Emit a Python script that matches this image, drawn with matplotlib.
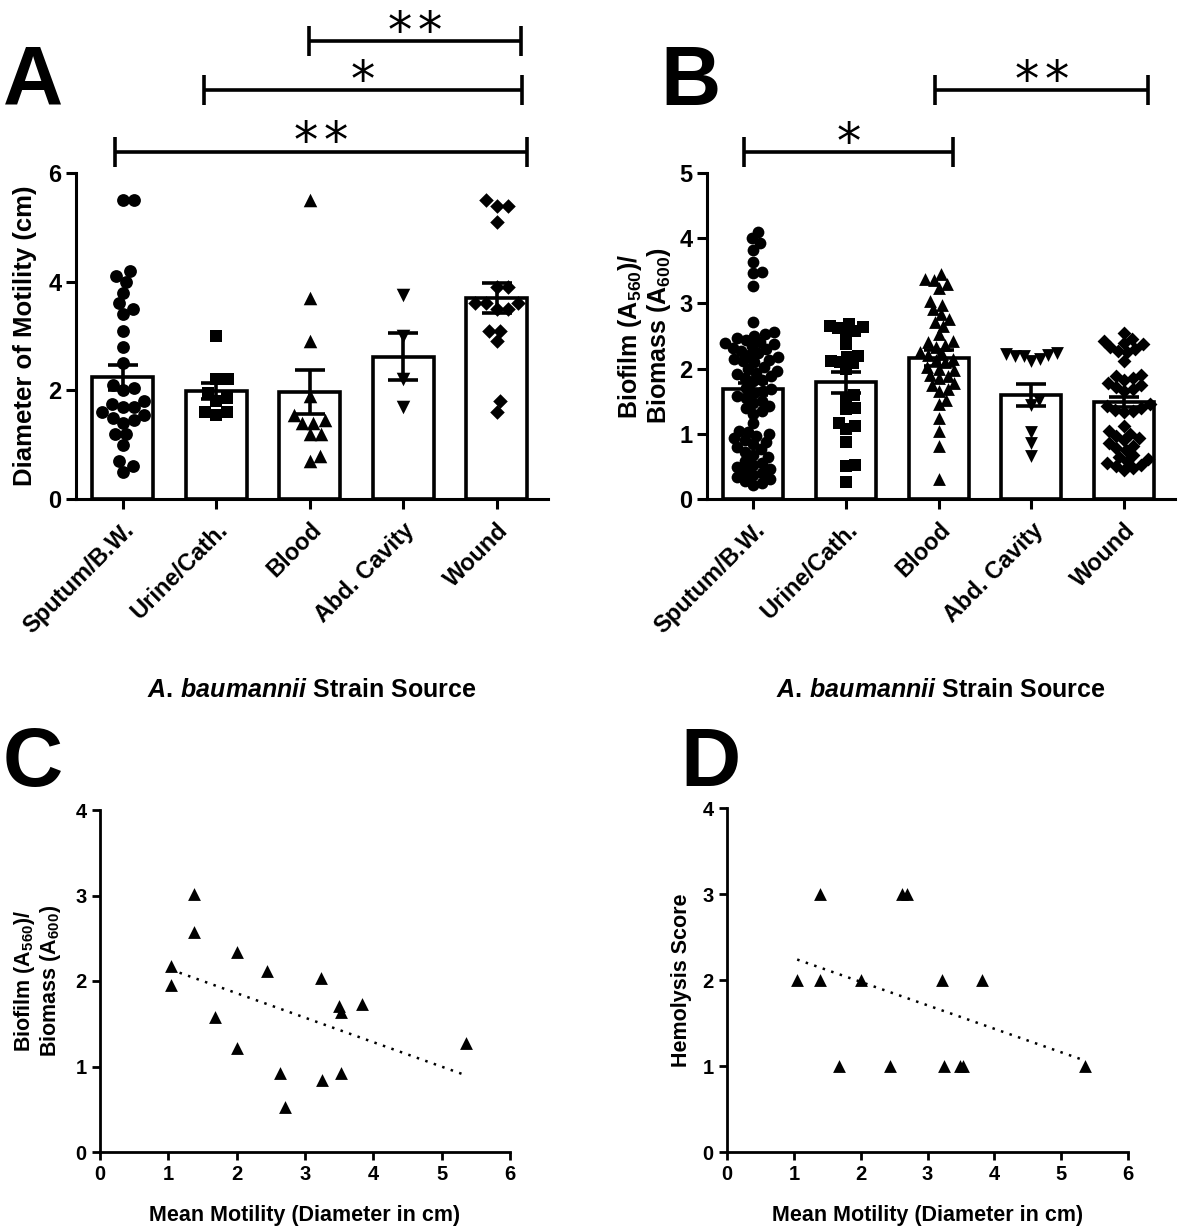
import numpy as np
import matplotlib
matplotlib.use("Agg")
import matplotlib.pyplot as plt

plt.rcParams.update({
    "font.family": ["Liberation Sans", "DejaVu Sans"],
    "font.weight": "bold",
    "axes.labelweight": "bold",
    "mathtext.fontset": "custom",
    "mathtext.rm": "Liberation Sans:bold",
    "mathtext.bf": "Liberation Sans:bold",
    "mathtext.it": "Liberation Sans:italic:bold",
    "axes.linewidth": 2.2,
})

# ---------------- data ----------------
categories = ["Sputum/B.W.", "Urine/Cath.", "Blood", "Abd. Cavity", "Wound"]

# Panel A: motility diameter (cm)
mot_sputum = [5.5, 5.5, 4.2, 4.1, 4.0, 3.8, 3.6, 3.5, 3.4, 3.1, 2.8, 2.5, 2.1, 2.05,
              2.0, 1.8, 1.75, 1.7, 1.7, 1.6, 1.55, 1.5, 1.45, 1.4, 1.2, 1.2, 1.0, 0.7,
              0.6, 0.5]
mot_urine = [3.0, 2.2, 2.2, 1.95, 1.85, 1.8, 1.6, 1.55, 1.6]
mot_blood = [5.5, 3.7, 2.9, 1.9, 1.55, 1.4, 1.4, 1.45, 1.2, 1.2, 0.8, 0.7]
mot_abd = [3.75, 3.0, 2.2, 1.7]
mot_wound = [5.5, 5.4, 5.4, 5.1, 3.9, 3.9, 3.6, 3.6, 3.6, 3.5, 3.5, 3.1, 3.1, 2.9, 1.8, 1.6]
mot_mean = [2.24, 1.99, 1.97, 2.62, 3.70]
mot_sem = [0.23, 0.15, 0.41, 0.43, 0.28]

# Panel B: biofilm / biomass
bio_sputum = [4.1, 4.0, 3.92, 3.82, 3.64, 3.48, 3.47, 3.27, 2.72,
              2.56, 2.53, 2.50, 2.47, 2.44, 2.41, 2.39, 2.37, 2.35,
              2.32, 2.30, 2.27, 2.24, 2.21, 2.18, 2.15, 2.13, 2.11, 2.10,
              2.02, 2.0, 1.97, 1.94, 1.91, 1.88, 1.85, 1.83, 1.81,
              1.70, 1.68, 1.65, 1.62, 1.58, 1.55, 1.51, 1.47, 1.43, 1.39, 1.35, 1.31,
              1.17,
              1.05, 1.03, 1.0, 0.97, 0.93, 0.90, 0.87, 0.84, 0.80, 0.76, 0.72, 0.68, 0.65,
              0.58, 0.55, 0.52, 0.49, 0.46, 0.43, 0.40, 0.37, 0.34, 0.31, 0.28, 0.25, 0.22]
bio_urine = [2.68, 2.66, 2.64, 2.62, 2.57, 2.55, 2.38, 2.2, 2.18, 2.12, 2.1, 2.08, 2.0,
             1.6, 1.55, 1.4, 1.38, 1.17, 1.12, 1.08, 0.88, 0.52, 0.5, 0.26]
bio_blood = [3.45, 3.38, 3.36, 3.3, 3.24, 3.04, 2.97, 2.91, 2.83, 2.76, 2.72, 2.65, 2.53,
             2.43, 2.41, 2.36, 2.33, 2.25, 2.23, 2.21, 2.15, 2.13, 2.1, 2.03, 2.0, 1.98,
             1.9, 1.88, 1.86, 1.78, 1.75, 1.68, 1.66, 1.52, 1.45, 1.24, 1.04, 0.81, 0.3]
bio_abd = [2.24, 2.22, 2.21, 2.2, 2.19, 2.14, 2.12, 1.52, 1.44, 1.02, 0.86, 0.66]
bio_wound = [2.55, 2.45, 2.43, 2.4, 2.37, 2.33, 2.3, 2.27, 2.25, 2.12,
             1.9, 1.88, 1.85, 1.82, 1.78, 1.75, 1.72, 1.68, 1.65,
             1.45, 1.42, 1.4, 1.37, 1.35, 1.33,
             1.12, 1.05, 1.0, 0.97, 0.93, 0.9, 0.86, 0.82, 0.78, 0.75,
             0.68, 0.65, 0.62, 0.58, 0.55, 0.52, 0.5, 0.47, 0.45]
bio_mean = [1.69, 1.79, 2.16, 1.60, 1.49]
bio_sem = [0.09, 0.16, 0.12, 0.17, 0.08]

# Panel C: mean motility vs biofilm
c_motility = [1.04, 1.04, 1.37, 1.37, 1.68, 2.0, 2.0, 2.45, 2.63, 2.71, 3.23, 3.25,
              3.5, 3.52, 3.53, 3.83, 5.35]
c_biofilm = [2.17, 1.95, 3.02, 2.57, 1.58, 2.34, 1.22, 2.12, 0.92, 0.53, 2.04, 0.84,
             1.71, 1.64, 0.92, 1.73, 1.27]

# Panel D: mean motility vs hemolysis score
d_motility = [1.05, 1.39, 1.39, 1.67, 2.0, 2.44, 2.62, 2.7, 3.22, 3.24, 3.49, 3.53, 3.81, 5.35]
d_hemolysis = [2, 3, 2, 1, 2, 1, 3, 3, 2, 1, 1, 1, 2, 1]

markers = ["o", "s", "^", "v", "D"]

# ---------------- figure ----------------
W, H = 1181, 1231
fig = plt.figure(figsize=(W / 100, H / 100), dpi=100)


def px_axes(l, r, t, b):
    return fig.add_axes([l / W, 1 - b / H, (r - l) / W, (b - t) / H])


axA = px_axes(76, 548, 173, 499)
axB = px_axes(707, 1175, 173, 499)
axC = px_axes(100, 510, 810, 1152)
axD = px_axes(727, 1128, 808, 1152)


def swarm(ax, x0, ys, d):
    ys = np.asarray(ys, float)
    pts = ax.transData.transform(np.column_stack([np.full(len(ys), x0), ys]))
    py = pts[:, 1]
    order = np.argsort(py, kind="stable")
    placed = []
    offs = np.zeros(len(ys))
    for i in order:
        y = py[i]
        cands = [0.0]
        for ox, oy in placed:
            dy = abs(y - oy)
            if dy < d:
                dx = np.sqrt(d * d - dy * dy)
                cands += [ox + dx, ox - dx]
        cands.sort(key=abs)
        c = 0.0
        for c in cands:
            if all((c - ox) ** 2 + (y - oy) ** 2 >= d * d - 1e-6 for ox, oy in placed):
                break
        placed.append((c, y))
        offs[i] = c
    xpx = pts[:, 0] + offs
    return ax.transData.inverted().transform(np.column_stack([xpx, py]))[:, 0]


def stars(ax, xc, y, n):
    for k in range(n):
        dx = (k - (n - 1) / 2) * 22
        ax.annotate("*", xy=(xc, y), xytext=(dx, 6), textcoords="offset points",
                    ha="center", va="center", fontsize=35, fontweight="normal",
                    family="DejaVu Sans", annotation_clip=False)


def bracket(ax, x1, x2, y, n, tick_px=15):
    p = ax.transData.transform([(0, y), (0, y + 1)])
    dy = tick_px / (p[1, 1] - p[0, 1])
    kw = dict(color="black", lw=2.6, clip_on=False, solid_capstyle="butt")
    ax.plot([x1, x2], [y, y], **kw)
    ax.plot([x1, x1], [y - dy, y + dy], **kw)
    ax.plot([x2, x2], [y - dy, y + dy], **kw)
    stars(ax, (x1 + x2) / 2, y, n)


def bar_panel(ax, groups, means, sems, ymax, yticks, d, sizes):
    x = np.arange(len(categories))
    ax.set_xlim(-0.5, 4.55)
    ax.set_ylim(0, ymax)
    ax.bar(x, means, width=0.65, color="white", edgecolor="black", linewidth=2.6, zorder=1)
    for i, g in enumerate(groups):
        xs = swarm(ax, i, g, d)
        ax.scatter(xs, g, marker=markers[i], s=sizes[i], color="black", linewidths=0, zorder=2)
    ax.errorbar(x, means, yerr=sems, fmt="none", ecolor="black", elinewidth=2.6,
                capsize=11, capthick=2.6, zorder=3)
    ax.set_xticks(x)
    ax.set_xticklabels(categories, rotation=45, ha="right", rotation_mode="anchor",
                       fontsize=17, fontweight="bold")
    ax.set_yticks(yticks)
    ax.tick_params(axis="y", labelsize=17, width=2.2, length=7)
    ax.tick_params(axis="x", width=2.2, length=7, pad=7)
    for s in ("top", "right"):
        ax.spines[s].set_visible(False)
    ax.set_xlabel(r"$\mathit{A.\,baumannii}$ Strain Source", fontsize=18)
    ax.xaxis.set_label_coords(0.5, -0.548)


bar_panel(axA, [mot_sputum, mot_urine, mot_blood, mot_abd, mot_wound], mot_mean, mot_sem,
          6, [0, 2, 4, 6], 11.5, [85, 78, 95, 95, 55])
axA.set_ylabel("Diameter of Motility (cm)", fontsize=18.5)
axA.yaxis.set_label_coords(-0.083, 0.5)
bracket(axA, -0.08, 4.32, 6.39, 2)
bracket(axA, 0.87, 4.27, 7.53, 1)
bracket(axA, 1.99, 4.26, 8.43, 2)

bar_panel(axB, [bio_sputum, bio_urine, bio_blood, bio_abd, bio_wound], bio_mean, bio_sem,
          5, [0, 1, 2, 3, 4, 5], 9.0, [72, 70, 85, 85, 50])
axB.set_ylabel("Biofilm (A$_{560}$)/\nBiomass (A$_{600}$)", fontsize=18, linespacing=1.05)
axB.yaxis.set_label_coords(-0.072, 0.5)
bracket(axB, -0.10, 2.15, 5.32, 1)
bracket(axB, 1.96, 4.26, 6.27, 2)


def scatter_panel(ax, xs, ys, ylabel, labx):
    ax.set_xlim(0, 6)
    ax.set_ylim(0, 4)
    ax.scatter(xs, ys, marker="^", s=85, color="black", linewidths=0, zorder=3, clip_on=False)
    xs = np.asarray(xs, float)
    k, b = np.polyfit(xs, np.asarray(ys, float), 1)
    xx = np.array([xs.min(), xs.max()])
    ax.plot(xx, k * xx + b, color="black", lw=1.8, linestyle=(0, (1, 2.6)))
    ax.set_xticks(range(7))
    ax.set_yticks(range(5))
    ax.tick_params(labelsize=14.5, width=2.0, length=6)
    for s in ("top", "right"):
        ax.spines[s].set_visible(False)
    for s in ("left", "bottom"):
        ax.spines[s].set_linewidth(2.0)
    ax.set_xlabel("Mean Motility (Diameter in cm)", fontsize=15.5)
    ax.xaxis.set_label_coords(0.5, -0.155)
    ax.set_ylabel(ylabel, fontsize=15.5, linespacing=1.05)
    ax.yaxis.set_label_coords(labx, 0.5)


scatter_panel(axC, c_motility, c_biofilm, "Biofilm (A$_{560}$)/\nBiomass (A$_{600}$)", -0.09)
scatter_panel(axD, d_motility, d_hemolysis, "Hemolysis Score", -0.087)

for letter, (x, y) in {"A": (3, 105), "B": (660, 105), "C": (3, 786), "D": (680, 786)}.items():
    fig.text(x / W, 1 - y / H, letter, fontsize=60, fontweight="bold", ha="left", va="baseline")

fig.savefig("out.png", dpi=100, facecolor="white")
